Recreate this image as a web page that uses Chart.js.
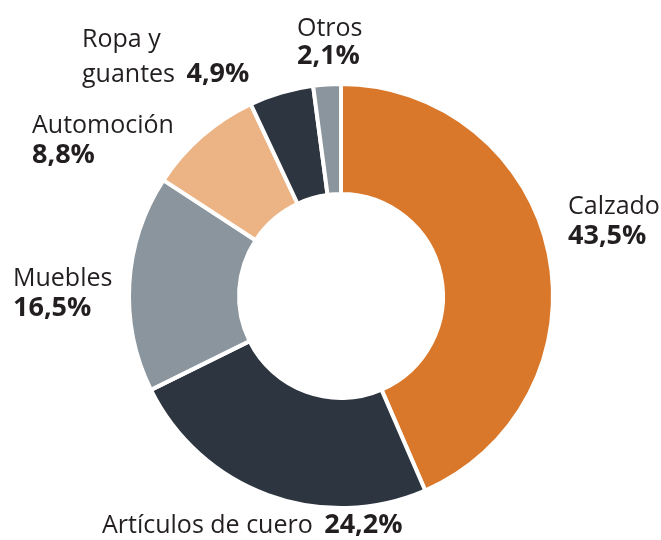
<!DOCTYPE html>
<html>
<head>
<meta charset="utf-8">
<script src="https://cdn.jsdelivr.net/npm/chart.js@4.4.1/dist/chart.umd.min.js"></script>
<style>
  html, body { margin: 0; padding: 0; background: #fff; }
  #wrap { width: 661px; height: 540px; position: relative; }
</style>
</head>
<body>
<div id="wrap"><canvas id="chart" width="661" height="540"></canvas></div>
<script>
// categories, clockwise from 12 o'clock ("\n" marks where the label wraps)
const categories = ["Calzado", "Artículos de cuero", "Muebles", "Automoción", "Ropa y\nguantes", "Otros"]
const shares = [43.5, 24.2, 16.5, 8.8, 4.9, 2.1]
const colors = ["#d9772a", "#2d3540", "#8b959d", "#ecb384", "#2d3540", "#8b959d"]

// where each label sits; inline = value on the same line as the last name line
const labelLayout = [
  { x: 568, y: 214, lineHeight: 30, inline: false },
  { x: 102, y: 533, lineHeight: 29, inline: true },
  { x: 13, y: 286, lineHeight: 30, inline: false },
  { x: 32, y: 133, lineHeight: 30, inline: false },
  { x: 82, y: 47, lineHeight: 35, inline: true },
  { x: 297, y: 36, lineHeight: 28, inline: false }
]

const FONT = "'Open Sans', sans-serif"
const TEXT = "#231f20"

const formatShare = v => v.toFixed(1).replace(".", ",") + "%"

const labelsPlugin = {
  id: "sliceLabels",
  afterDraw(chart) {
    const ctx = chart.ctx
    ctx.save()
    ctx.fillStyle = TEXT
    ctx.textBaseline = "alphabetic"
    ctx.textAlign = "left"
    categories.forEach((name, i) => {
      const pos = labelLayout[i]
      const lines = name.split("\n")
      const value = formatShare(shares[i])
      let y = pos.y
      lines.forEach((line, j) => {
        ctx.font = "400 25px " + FONT
        ctx.fillText(line, pos.x, y)
        if (pos.inline && j === lines.length - 1) {
          const w = ctx.measureText(line + " ").width
          ctx.font = "700 27px " + FONT
          ctx.fillText(value, pos.x + w + 5, y)
        }
        y += pos.lineHeight
      })
      if (!pos.inline) {
        ctx.font = "700 27px " + FONT
        ctx.fillText(value, pos.x, y)
      }
    })
    ctx.restore()
  }
}

new Chart(document.getElementById("chart"), {
  type: "doughnut",
  data: {
    labels: categories.map(c => c.replace("\n", " ")),
    datasets: [{
      data: shares,
      backgroundColor: colors,
      borderColor: "#ffffff",
      borderWidth: 4,
      hoverOffset: 0,
      offset: 0
    }]
  },
  options: {
    responsive: false,
    animation: false,
    radius: 212,
    cutout: "48.1%",
    layout: { padding: { left: 131, right: 110, top: 86, bottom: 34 } },
    plugins: {
      legend: { display: false },
      tooltip: { enabled: false }
    }
  },
  plugins: [labelsPlugin]
})
</script>
</body>
</html>
